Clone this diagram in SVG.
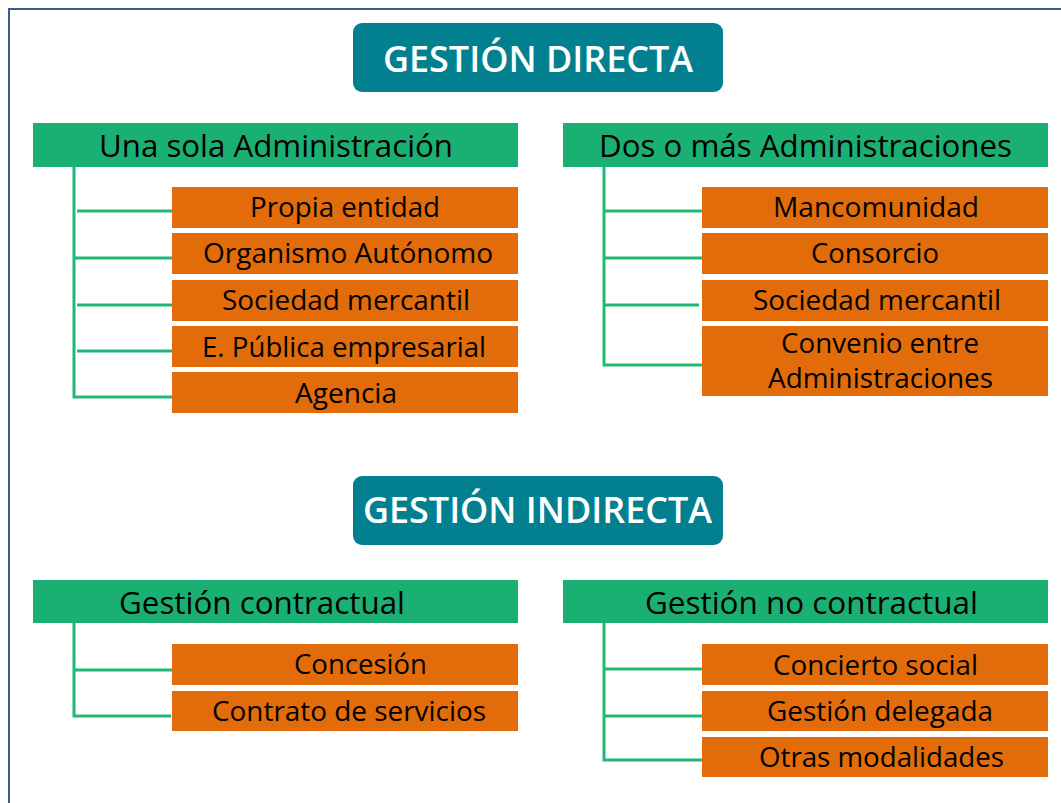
<svg xmlns="http://www.w3.org/2000/svg" width="1061" height="803" viewBox="0 0 1061 803">
<style>
.title{fill:#02808f}
.tt{fill:#ffffff;font-family:"Open Sans","Liberation Sans",sans-serif;font-size:36px;font-weight:600}
.hdr{fill:#1bb073}
.ht{fill:#000000;font-family:"Open Sans","Liberation Sans",sans-serif;font-size:31px}
.box{fill:#e36c0a}
.bt{fill:#000000;font-family:"Open Sans","Liberation Sans",sans-serif;font-size:28px}
.ln{stroke:#23b777;stroke-width:3;fill:none}
</style>
<rect width="1061" height="803" fill="#ffffff"/>
<rect x="9" y="9" width="1100" height="900" fill="none" stroke="#335f91" stroke-width="2"/>

<g id="connectors">
<path class="ln" d="M74,167 V397 H172"/>
<path class="ln" d="M77,211 H172 M74,258 H172 M77,305 H172 M77,351 H172"/>
<path class="ln" d="M604,167 V365 H702"/>
<path class="ln" d="M604,211 H702 M604,258 H702 M604,305 H699"/>
<path class="ln" d="M74,623 V716 H171"/>
<path class="ln" d="M74,670 H172"/>
<path class="ln" d="M604,623 V760 H702"/>
<path class="ln" d="M604,669 H702 M604,716 H702"/>
</g>

<g id="gestion-directa">
<rect class="title" x="353" y="23" width="370" height="69" rx="9"/>
<text class="tt" x="383" y="72" textLength="310" lengthAdjust="spacingAndGlyphs">GESTIÓN DIRECTA</text>
</g>

<g id="una-sola">
<rect class="hdr" x="33" y="123" width="485" height="44"/>
<text class="ht" x="99" y="157" textLength="354" lengthAdjust="spacingAndGlyphs">Una sola Administración</text>
</g>
<g id="propia-entidad">
<rect class="box" x="172" y="187" width="346" height="41"/>
<text class="bt" x="250" y="217" textLength="190" lengthAdjust="spacingAndGlyphs">Propia entidad</text>
</g>
<g id="organismo-autonomo">
<rect class="box" x="172" y="233" width="346" height="41"/>
<text class="bt" x="203" y="263" textLength="290" lengthAdjust="spacingAndGlyphs">Organismo Autónomo</text>
</g>
<g id="sociedad-mercantil-1">
<rect class="box" x="172" y="280" width="346" height="41"/>
<text class="bt" x="222" y="310" textLength="248" lengthAdjust="spacingAndGlyphs">Sociedad mercantil</text>
</g>
<g id="e-publica">
<rect class="box" x="172" y="326" width="346" height="41"/>
<text class="bt" x="202" y="357" textLength="284" lengthAdjust="spacingAndGlyphs">E. Pública empresarial</text>
</g>
<g id="agencia">
<rect class="box" x="172" y="372" width="346" height="41"/>
<text class="bt" x="295" y="403" textLength="102" lengthAdjust="spacingAndGlyphs">Agencia</text>
</g>

<g id="dos-o-mas">
<rect class="hdr" x="563" y="123" width="485" height="44"/>
<text class="ht" x="599" y="157" textLength="413" lengthAdjust="spacingAndGlyphs">Dos o más Administraciones</text>
</g>
<g id="mancomunidad">
<rect class="box" x="702" y="187" width="346" height="41"/>
<text class="bt" x="773" y="217" textLength="206" lengthAdjust="spacingAndGlyphs">Mancomunidad</text>
</g>
<g id="consorcio">
<rect class="box" x="702" y="233" width="346" height="41"/>
<text class="bt" x="811" y="263" textLength="128" lengthAdjust="spacingAndGlyphs">Consorcio</text>
</g>
<g id="sociedad-mercantil-2">
<rect class="box" x="702" y="280" width="346" height="41"/>
<text class="bt" x="753" y="310" textLength="248" lengthAdjust="spacingAndGlyphs">Sociedad mercantil</text>
</g>
<g id="convenio">
<rect class="box" x="702" y="326" width="346" height="70"/>
<text class="bt" x="781" y="353" textLength="198" lengthAdjust="spacingAndGlyphs">Convenio entre</text>
<text class="bt" x="768" y="388" textLength="225" lengthAdjust="spacingAndGlyphs">Administraciones</text>
</g>

<g id="gestion-indirecta">
<rect class="title" x="353" y="476" width="370" height="69" rx="9"/>
<text class="tt" x="363" y="523" textLength="349" lengthAdjust="spacingAndGlyphs">GESTIÓN INDIRECTA</text>
</g>

<g id="gestion-contractual">
<rect class="hdr" x="33" y="580" width="485" height="43"/>
<text class="ht" x="119" y="614" textLength="286" lengthAdjust="spacingAndGlyphs">Gestión contractual</text>
</g>
<g id="concesion">
<rect class="box" x="172" y="644" width="346" height="41"/>
<text class="bt" x="294" y="674" textLength="133" lengthAdjust="spacingAndGlyphs">Concesión</text>
</g>
<g id="contrato-servicios">
<rect class="box" x="172" y="691" width="346" height="40"/>
<text class="bt" x="212" y="721" textLength="274" lengthAdjust="spacingAndGlyphs">Contrato de servicios</text>
</g>

<g id="gestion-no-contractual">
<rect class="hdr" x="563" y="580" width="485" height="43"/>
<text class="ht" x="645" y="614" textLength="333" lengthAdjust="spacingAndGlyphs">Gestión no contractual</text>
</g>
<g id="concierto-social">
<rect class="box" x="702" y="644" width="346" height="41"/>
<text class="bt" x="773" y="675" textLength="205" lengthAdjust="spacingAndGlyphs">Concierto social</text>
</g>
<g id="gestion-delegada">
<rect class="box" x="702" y="691" width="346" height="40"/>
<text class="bt" x="767" y="721" textLength="226" lengthAdjust="spacingAndGlyphs">Gestión delegada</text>
</g>
<g id="otras-modalidades">
<rect class="box" x="702" y="737" width="346" height="40"/>
<text class="bt" x="759" y="767" textLength="245" lengthAdjust="spacingAndGlyphs">Otras modalidades</text>
</g>
</svg>
